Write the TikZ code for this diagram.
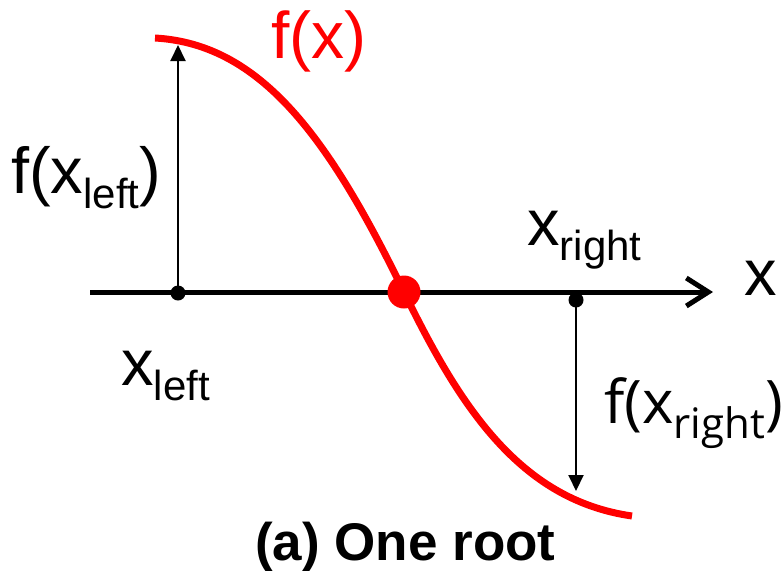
\documentclass[tikz,border=0pt]{standalone}
\usepackage{fontspec}
\setmainfont{Liberation Sans}
\newfontfamily\segoe{Open Sans}
\usetikzlibrary{arrows.meta}
\newcommand{\lbl}[2]{#1\raisebox{-15pt}{\fontsize{42}{42}\selectfont #2}}
\begin{document}
\begin{tikzpicture}[x=1pt,y=-1pt,
  txt/.style={inner sep=0pt,anchor=base west,font=\fontsize{65}{65}\selectfont},
  curve/.style={red,line width=7pt},
  meas/.style={line width=2pt,-{Triangle[length=16pt,width=15pt]}},
  dotb/.style={circle,fill=black,inner sep=0pt,minimum size=15pt},
  rootdot/.style={circle,fill=red,inner sep=0pt,minimum size=33pt}]
\useasboundingbox (0,0) rectangle (784,574);
% axis
\coordinate (a0) at (90,292);
\coordinate (a1) at (713,292);
\draw[line width=5pt,-{Straight Barb[length=22pt,width=28pt,line width=5pt]}] (a0) -- (a1);
% curve
\coordinate (c0) at (155,38);
\coordinate (r) at (404,292);
\coordinate (c1) at (632,516);
\draw[curve] (c0) .. controls (262,44) and (330,140) .. (r)
  .. controls (460,407) and (520,500) .. (c1);
% dots
\node[dotb] (dl) at (178,293) {};
\node[dotb] (dr) at (576,300) {};
\node[rootdot] (rd) at (r) {};
% measure arrows
\coordinate (tl) at (178,45);
\coordinate (tr) at (576,491);
\draw[meas] (dl.center) -- (tl);
\draw[meas] (dr.center) -- (tr);
% labels
\node[txt,text=red,font=\fontsize{66}{66}\selectfont] (fx) at (271,58) {f(x)};
\node[txt] (fxl) at (11,193) {f(\lbl{x}{left})};
\node[txt] (xl) at (121,385) {\lbl{x}{left}};
\node[txt] (xr) at (527,245) {\lbl{x}{right}};
\node[txt] (xa) at (744,295) {x};
\node[txt,font=\segoe\fontsize{60}{60}\selectfont] (fxr) at (604,423) {f(\lbl{x}{right})};
\node[inner sep=0pt,anchor=base west,font=\bfseries\fontsize{53}{53}\selectfont] (cap) at (255,560) {(a) One root};
\end{tikzpicture}
\end{document}
